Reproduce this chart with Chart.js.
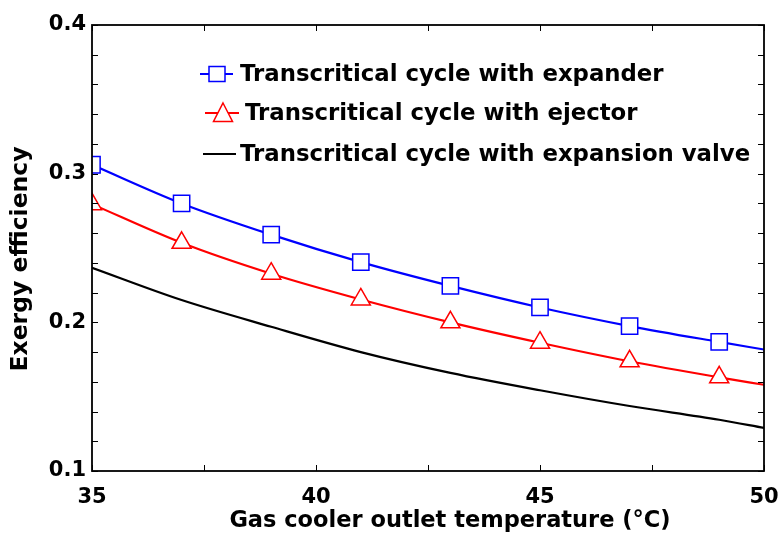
<!DOCTYPE html>
<html>
<head>
<meta charset="utf-8">
<script src="https://cdn.jsdelivr.net/npm/chart.js@4/dist/chart.umd.min.js"></script>
<style>
html,body{margin:0;padding:0;background:#fff;}
#wrap{width:782px;height:534px;}
</style>
</head>
<body>
<div id="wrap"><canvas id="c" width="782" height="534"></canvas></div>
<script>
// Data
const temperatures = [35, 37, 39, 41, 43, 45, 47, 49, 50];
const expanderEff  = [0.306, 0.280, 0.259, 0.2405, 0.2245, 0.210, 0.1975, 0.1868, 0.1817];
const ejectorEff   = [0.2795, 0.2535, 0.2327, 0.2154, 0.200, 0.1863, 0.1738, 0.163, 0.158];
const valveEff     = [0.2367, 0.215, 0.197, 0.180, 0.166, 0.1543, 0.1437, 0.1345, 0.129];
const seriesLabels = [
  'Transcritical cycle with expander',
  'Transcritical cycle with ejector',
  'Transcritical cycle with expansion valve'
];
const xTickLabels = [35, 40, 45, 50];
const yTickLabels = [0.1, 0.2, 0.3, 0.4];
const xTitle = 'Gas cooler outlet temperature (°C)';
const yTitle = 'Exergy efficiency';

const FONT = 'DejaVu Sans';
Chart.defaults.font.family = FONT;
Chart.defaults.font.weight = 'bold';
Chart.defaults.color = '#000';

function pts(arr){ return temperatures.map((t,i)=>({x:t, y:arr[i]})); }
function radii(r){ return temperatures.map(t => t === 50 ? 0 : r); }

const clipPlugin = {
  id: 'areaClip',
  beforeDatasetsDraw(chart){
    const a = chart.chartArea, ctx = chart.ctx;
    ctx.save();
    ctx.beginPath();
    ctx.rect(a.left, a.top, a.right - a.left, a.bottom - a.top);
    ctx.clip();
  },
  afterDatasetsDraw(chart){ chart.ctx.restore(); }
};

const framePlugin = {
  id: 'frame',
  afterDatasetsDraw(chart){
    const ctx = chart.ctx, a = chart.chartArea;
    const xs = chart.scales.x, ys = chart.scales.y;
    ctx.save();
    ctx.strokeStyle = '#000';
    ctx.lineWidth = 1.8;
    ctx.strokeRect(a.left, a.top, a.right - a.left, a.bottom - a.top);
    ctx.lineWidth = 1;
    const L = 6;
    ctx.beginPath();
    ys.ticks.forEach(t => {
      const y = Math.round(ys.getPixelForValue(t.value)) + 0.5;
      ctx.moveTo(a.left, y); ctx.lineTo(a.left + L, y);
      ctx.moveTo(a.right, y); ctx.lineTo(a.right - L, y);
    });
    xs.ticks.forEach(t => {
      const x = Math.round(xs.getPixelForValue(t.value)) + 0.5;
      ctx.moveTo(x, a.bottom); ctx.lineTo(x, a.bottom - L);
      ctx.moveTo(x, a.top); ctx.lineTo(x, a.top + L);
    });
    ctx.stroke();
    // axis titles
    ctx.fillStyle = '#000';
    ctx.textAlign = 'center';
    ctx.textBaseline = 'middle';
    ctx.font = 'bold 22.5px "' + FONT + '"';
    ctx.fillText(xTitle, 450, 521);
    ctx.save();
    ctx.translate(21, 259);
    ctx.rotate(-Math.PI / 2);
    ctx.font = 'bold 23.5px "' + FONT + '"';
    ctx.fillText(yTitle, 0, 0);
    ctx.restore();
    ctx.restore();
  }
};

const legendPlugin = {
  id: 'boxLegend',
  afterDraw(chart){
    const ctx = chart.ctx;
    const rows = [
      {ds:0, x1:200, x2:233, mx:217, y:74, tx:240},
      {ds:1, x1:205, x2:239, mx:223, y:113, tx:245},
      {ds:2, x1:203, x2:236, mx:null, y:154, tx:240}
    ];
    ctx.save();
    rows.forEach(r => {
      const d = chart.data.datasets[r.ds];
      ctx.strokeStyle = d.borderColor;
      ctx.lineWidth = 2;
      ctx.beginPath(); ctx.moveTo(r.x1, r.y); ctx.lineTo(r.x2, r.y); ctx.stroke();
      if (r.mx !== null) {
        ctx.fillStyle = '#fff';
        ctx.strokeStyle = d.borderColor;
        ctx.lineWidth = 1.5;
        ctx.beginPath();
        if (d.pointStyle === 'rect') {
          ctx.rect(r.mx - 8, r.y - 7.5, 16, 15);
        } else {
          ctx.moveTo(r.mx, r.y - 10); ctx.lineTo(r.mx + 9.5, r.y + 8.5); ctx.lineTo(r.mx - 9.5, r.y + 8.5); ctx.closePath();
        }
        ctx.fill(); ctx.stroke();
      }
      ctx.fillStyle = '#000';
      ctx.font = 'bold 22.8px "' + FONT + '"';
      ctx.textBaseline = 'middle';
      ctx.textAlign = 'left';
      ctx.fillText(d.label, r.tx, r.y + 1);
    });
    ctx.restore();
  }
};

new Chart(document.getElementById('c'), {
  type: 'line',
  data: {
    datasets: [
      {
        label: seriesLabels[0], data: pts(expanderEff),
        borderColor: '#0000ff', backgroundColor: '#ffffff',
        borderWidth: 2.2, pointStyle: 'rect', pointRadius: radii(11.5),
        pointBorderWidth: 1.5, pointBackgroundColor: '#fff', pointBorderColor: '#0000ff',
        cubicInterpolationMode: 'monotone', clip: false
      },
      {
        label: seriesLabels[1], data: pts(ejectorEff),
        borderColor: '#ff0000', backgroundColor: '#ffffff',
        borderWidth: 2.2, pointStyle: 'triangle', pointRadius: radii(11),
        pointBorderWidth: 1.5, pointBackgroundColor: '#fff', pointBorderColor: '#ff0000',
        cubicInterpolationMode: 'monotone', clip: false
      },
      {
        label: seriesLabels[2], data: pts(valveEff),
        borderColor: '#000000', backgroundColor: '#000000',
        borderWidth: 2.2, pointRadius: 0,
        cubicInterpolationMode: 'monotone', clip: false
      }
    ]
  },
  options: {
    responsive: false,
    animation: false,
    devicePixelRatio: 1,
    layout: { padding: { left: 0, right: 18, top: 25, bottom: 0 } },
    plugins: { legend: { display: false }, tooltip: { enabled: false } },
    scales: {
      x: {
        type: 'linear', min: 35, max: 50,
        grid: { display: false, drawTicks: false },
        border: { display: false },
        ticks: {
          stepSize: 2.5, autoSkip: false, maxRotation: 0, padding: 14,
          font: { size: 21, weight: 'bold' },
          callback: (v) => xTickLabels.includes(v) ? String(v) : ''
        },
        afterFit: (s) => { s.height = 63; s.paddingLeft = 0; s.paddingRight = 0; }
      },
      y: {
        type: 'linear', min: 0.1, max: 0.4,
        grid: { display: false, drawTicks: false },
        border: { display: false },
        ticks: {
          stepSize: 0.02, autoSkip: false, padding: 6,
          font: { size: 21, weight: 'bold' },
          callback: (v) => {
            const m = yTickLabels.find(t => Math.abs(t - v) < 1e-6);
            return m !== undefined ? m.toFixed(1) : '';
          }
        },
        afterFit: (s) => { s.width = 92; s.paddingTop = 0; s.paddingBottom = 0; }
      }
    }
  },
  plugins: [clipPlugin, framePlugin, legendPlugin]
});
</script>
</body>
</html>
